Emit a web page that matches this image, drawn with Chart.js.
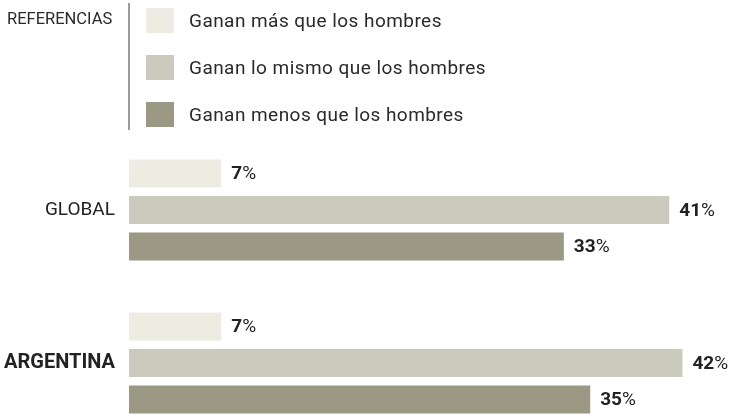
<!DOCTYPE html>
<html>
<head>
<meta charset="utf-8">
<script src="https://cdn.jsdelivr.net/npm/chart.js@4"></script>
<style>
  html, body { margin: 0; padding: 0; background: #fff; overflow: hidden; width: 732px; height: 414px; }
  #c { position: absolute; left: 0; top: 0; width: 732px; height: 414px; }
  #legend { position: absolute; left: 0; top: 0; width: 732px; height: 134px; font-family: Roboto, "Noto Sans", sans-serif; color: #2a2a2a; }
  #refTitle { position: absolute; left: 7px; top: 8px; font-size: 16.5px; line-height: 22px; }
  #refLine { position: absolute; left: 128px; top: 3px; width: 2px; height: 127px; background: #9a9a9a; }
  .item { position: absolute; left: 146px; height: 26px; display: flex; align-items: center; font-size: 19px; letter-spacing: 0.45px; }
  .sw { width: 28px; height: 25px; margin-right: 15px; flex: none; }
</style>
</head>
<body>
<canvas id="c" width="732" height="414"></canvas>
<div id="legend"><div id="refTitle">REFERENCIAS</div><div id="refLine"></div></div>
<script>
const categories = ['GLOBAL', 'ARGENTINA'];
const seriesNames = ['Ganan más que los hombres', 'Ganan lo mismo que los hombres', 'Ganan menos que los hombres'];
const ganaMas = [7, 7];
const ganaIgual = [41, 42];
const ganaMenos = [33, 35];
const seriesColors = ['#ECECE3', '#CACBBD', '#9B9883'];

const seriesValues = [ganaMas, ganaIgual, ganaMenos];

// HTML legend
const legend = document.getElementById('legend');
seriesNames.forEach((name, i) => {
  const row = document.createElement('div');
  row.className = 'item';
  row.style.top = (7 + i * 47) + 'px';
  const sw = document.createElement('div');
  sw.className = 'sw';
  sw.style.background = seriesColors[i];
  const t = document.createElement('span');
  t.textContent = name;
  row.appendChild(sw);
  row.appendChild(t);
  legend.appendChild(row);
});

const FONT = 'Roboto, "Noto Sans", sans-serif';

const valueLabels = {
  id: 'valueLabels',
  afterDatasetsDraw(chart) {
    const ctx = chart.ctx;
    ctx.save();
    ctx.textBaseline = 'middle';
    ctx.fillStyle = '#222';
    chart.data.datasets.forEach((ds, di) => {
      const meta = chart.getDatasetMeta(di);
      meta.data.forEach((bar, i) => {
        const num = String(ds.data[i]);
        let x = bar.x + 10;
        const y = bar.y + 1;
        ctx.font = 'bold 19px ' + FONT;
        ctx.textAlign = 'left';
        ctx.fillText(num, x, y);
        x += ctx.measureText(num).width;
        ctx.font = '19px ' + FONT;
        ctx.fillText('%', x, y);
      });
    });
    ctx.restore();
  }
};

new Chart(document.getElementById('c'), {
  type: 'bar',
  data: {
    labels: categories,
    datasets: seriesNames.map((name, i) => ({
      label: name,
      data: seriesValues[i],
      backgroundColor: seriesColors[i],
      borderWidth: 0,
      clip: false,
      categoryPercentage: 0.716,
      barPercentage: 0.77
    }))
  },
  options: {
    indexAxis: 'y',
    responsive: false,
    animation: false,
    layout: { padding: { top: 210, right: 10, left: 0, bottom: 51 } },
    plugins: { legend: { display: false }, tooltip: { enabled: false } },
    scales: {
      x: { display: false, min: 0, max: 45 },
      y: {
        offset: false,
        border: { display: false },
        grid: { display: false, drawTicks: false, offset: false },
        ticks: {
          padding: 14,
          color: '#222',
          font: (c) => ({ family: FONT, size: c.index === 1 ? 20 : 19, weight: c.index === 1 ? 'bold' : 'normal' })
        },
        afterFit(scale) { scale.width = 129; }
      }
    }
  },
  plugins: [valueLabels]
});
</script>
</body>
</html>
